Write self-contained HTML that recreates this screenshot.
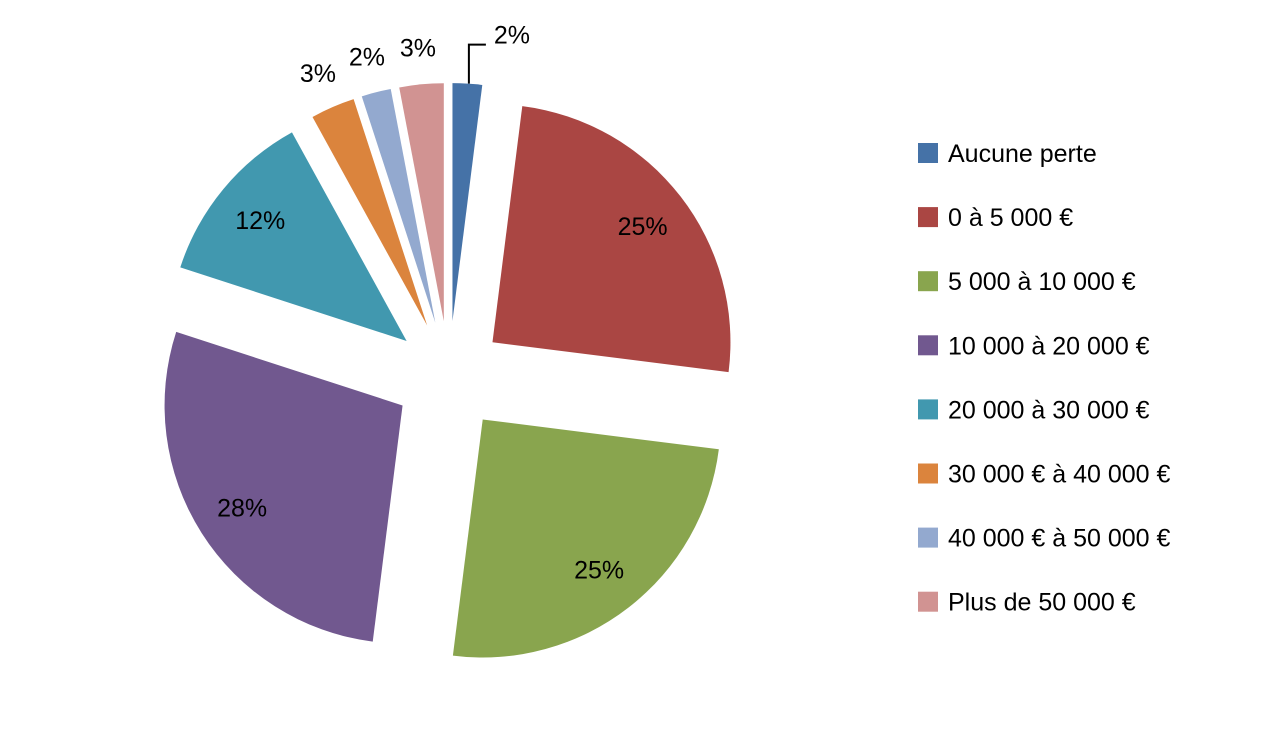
<!DOCTYPE html>
<html><head><meta charset="utf-8"><style>
body{margin:0;background:#fff;}
svg{display:block;font-family:"Liberation Sans",sans-serif;}
</style></head><body>
<svg id="chart" width="1268" height="754" xmlns="http://www.w3.org/2000/svg"></svg>
<script>
const categories=["Aucune perte","0 à 5 000 €","5 000 à 10 000 €","10 000 à 20 000 €","20 000 à 30 000 €","30 000 € à 40 000 €","40 000 € à 50 000 €","Plus de 50 000 €"];
const values=[2,25,25,28,12,3,2,3];
const valueLabels=["2%","25%","25%","28%","12%","3%","2%","3%"];
const colors=["#4572A7","#AA4643","#89A54E","#71588F","#4198AF","#DB843D","#93A9CF","#D19392"];
const NS="http://www.w3.org/2000/svg";
const svg=document.getElementById('chart');
const cx=449,cy=376,R=238,EX=55;
const total=values.reduce((a,b)=>a+b,0);
function pt(ang,r,ox,oy){return [ox+r*Math.sin(ang),oy-r*Math.cos(ang)];}
let acc=0;
values.forEach((v,i)=>{
  const a0=acc/total*2*Math.PI; acc+=v; const a1=acc/total*2*Math.PI;
  const am=(a0+a1)/2;
  const [ox,oy]=pt(am,EX,cx,cy);
  const p0=pt(a0,R,ox,oy),p1=pt(a1,R,ox,oy);
  const large=(a1-a0)>Math.PI?1:0;
  const path=document.createElementNS(NS,'path');
  path.setAttribute('d',`M${ox},${oy}L${p0[0]},${p0[1]}A${R},${R} 0 ${large} 1 ${p1[0]},${p1[1]}Z`);
  path.setAttribute('fill',colors[i]);
  
  
  svg.appendChild(path);
  const t=document.createElementNS(NS,'text');
  let lx,ly;
  if(v/total>=0.1){[lx,ly]=pt(am,245,cx,cy);}
  else if(i===0){
    const [tx,ty]=pt(a0+(a1-a0)*0.55,R,ox,oy);
    const ln=document.createElementNS(NS,'polyline');
    ln.setAttribute('points',`${tx},${ty} ${tx},${ty-39} ${tx+17},${ty-39}`);
    ln.setAttribute('fill','none');ln.setAttribute('stroke','#000');ln.setAttribute('stroke-width','2');
    
    
    svg.appendChild(ln);
    lx=tx+43;ly=ty-49;
  } else {[lx,ly]=pt(am,330,cx,cy);}
  t.setAttribute('x',lx);t.setAttribute('y',ly+9);
  t.setAttribute('text-anchor','middle');t.setAttribute('font-size','25');t.setAttribute('fill','#000');
  t.textContent=valueLabels[i];
  
  
  svg.appendChild(t);
});
categories.forEach((c,i)=>{
  const y=153+i*64.1;
  const g=document.createElementNS(NS,'g');
  
  
  const r=document.createElementNS(NS,'rect');
  r.setAttribute('x',918);r.setAttribute('y',y-10);r.setAttribute('width',20);r.setAttribute('height',20);
  r.setAttribute('fill',colors[i]);
  
  
  const t=document.createElementNS(NS,'text');
  t.setAttribute('x',948);t.setAttribute('y',y+9);t.setAttribute('font-size','25');
  t.textContent=c;
  
  
  g.appendChild(r);g.appendChild(t);svg.appendChild(g);
});
</script>
</body></html>
